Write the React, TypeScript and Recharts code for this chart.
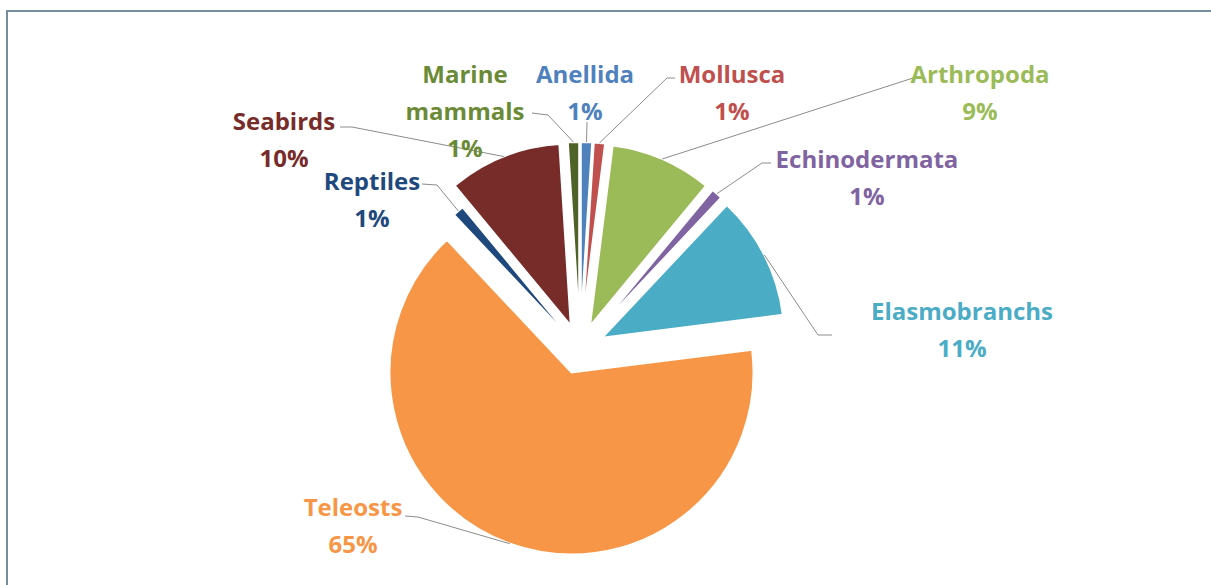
import React from 'react';
import { PieChart, Pie, Cell, Sector } from 'recharts';

// clockwise from 12 o'clock
const groups = ['Anellida', 'Mollusca', 'Arthropoda', 'Echinodermata', 'Elasmobranchs', 'Teleosts', 'Reptiles', 'Seabirds', 'Marine mammals'];
const shares = [1, 1, 9, 1, 11, 65, 1, 10, 1];

const sliceColors = ['#4f81bd', '#c0504d', '#9bbb59', '#8064a2', '#4bacc6', '#f79646', '#1f497d', '#772c2a', '#4f6228'];
const textColors = ['#4f81bd', '#c0504d', '#9bbb59', '#8064a2', '#4bacc6', '#f79646', '#1f497d', '#772c2a', '#6b8a35'];
const explode = [25, 25, 25, 25, 25, 25, 2, 25, 25];

// label placement relative to pie centre: text centre, leader start, leader elbow
const labelLayout: Record<string, { lines: string[]; dx: number; dy: number; sx: number; sy: number; ex: number; ey: number }> = {
  'Marine mammals': { lines: ['Marine', 'mammals'], dx: -115, dy: -276, sx: -48, sy: -236, ex: -32, ey: -234 },
  Anellida: { lines: ['Anellida'], dx: 5, dy: -276, sx: 7, sy: -227, ex: 7, ey: -227 },
  Mollusca: { lines: ['Mollusca'], dx: 152, dy: -276, sx: 95, sy: -271, ex: 87, ey: -271 },
  Arthropoda: { lines: ['Arthropoda'], dx: 400, dy: -276, sx: 340, sy: -272, ex: 333, ey: -271 },
  Echinodermata: { lines: ['Echinodermata'], dx: 287, dy: -191, sx: 191, sy: -186, ex: 182, ey: -186 },
  Elasmobranchs: { lines: ['Elasmobranchs'], dx: 382, dy: -39, sx: 252, sy: -14, ex: 238, ey: -14 },
  Teleosts: { lines: ['Teleosts'], dx: -227, dy: 157, sx: -175, sy: 167, ex: -162, ey: 168 },
  Reptiles: { lines: ['Reptiles'], dx: -208, dy: -169, sx: -158, sy: -165, ex: -143, ey: -164 },
  Seabirds: { lines: ['Seabirds'], dx: -296, dy: -229, sx: -240, sy: -222, ex: -228, ey: -222 },
};

const data = groups.map((name, i) => ({ name, value: shares[i] }));

const RAD = Math.PI / 180;
const LINE_H = 37;

const ExplodedSlice = (props: any) => {
  const { cx, cy, midAngle, index } = props;
  const off = explode[index] ?? 25;
  return (
    <Sector
      {...props}
      cx={cx + off * Math.cos(-midAngle * RAD)}
      cy={cy + off * Math.sin(-midAngle * RAD)}
      stroke="#ffffff"
      strokeWidth={2}
    />
  );
};

const renderLabel = (props: any) => {
  const { cx, cy, midAngle, outerRadius, index, name } = props;
  const lay = labelLayout[name];
  if (!lay) return null;
  const off = explode[index] ?? 25;
  const r = outerRadius + off;
  const px = cx + r * Math.cos(-midAngle * RAD);
  const py = cy + r * Math.sin(-midAngle * RAD);
  const lines = [...lay.lines, `${shares[index]}%`];
  return (
    <g>
      <polyline
        points={`${cx + lay.sx},${cy + lay.sy} ${cx + lay.ex},${cy + lay.ey} ${px},${py}`}
        fill="none"
        stroke="#8c8c8c"
        strokeWidth={1}
      />
      {lines.map((t, k) => (
        <text
          key={k}
          x={cx + lay.dx}
          y={cy + lay.dy + k * LINE_H}
          textAnchor="middle"
          dominantBaseline="central"
          fill={textColors[index]}
          fontFamily="'Open Sans', Lato, sans-serif"
          fontWeight={700}
          fontSize={24}
        >
          {t}
        </text>
      ))}
    </g>
  );
};

export default function App() {
  return (
    <div style={{ position: 'absolute', left: 0, top: 0, width: 1211, height: 585, background: '#ffffff', overflow: 'hidden' }}>
      <div
        style={{
          position: 'absolute',
          left: 6,
          top: 10,
          width: 1220,
          height: 590,
          borderTop: '2px solid #748e9e',
          borderLeft: '2px solid #748e9e',
          boxSizing: 'border-box',
        }}
      />
      <div style={{ position: 'absolute', left: 0, top: 0 }}>
        <PieChart width={1211} height={585}>
          <Pie
            data={data}
            dataKey="value"
            nameKey="name"
            cx={575}
            cy={344}
            outerRadius={182}
            startAngle={90}
            endAngle={-270}
            shape={ExplodedSlice}
            label={renderLabel}
            labelLine={false}
            isAnimationActive={false}
            stroke="#ffffff"
          >
            {data.map((d, i) => (
              <Cell key={d.name} fill={sliceColors[i]} />
            ))}
          </Pie>
        </PieChart>
      </div>
    </div>
  );
}
